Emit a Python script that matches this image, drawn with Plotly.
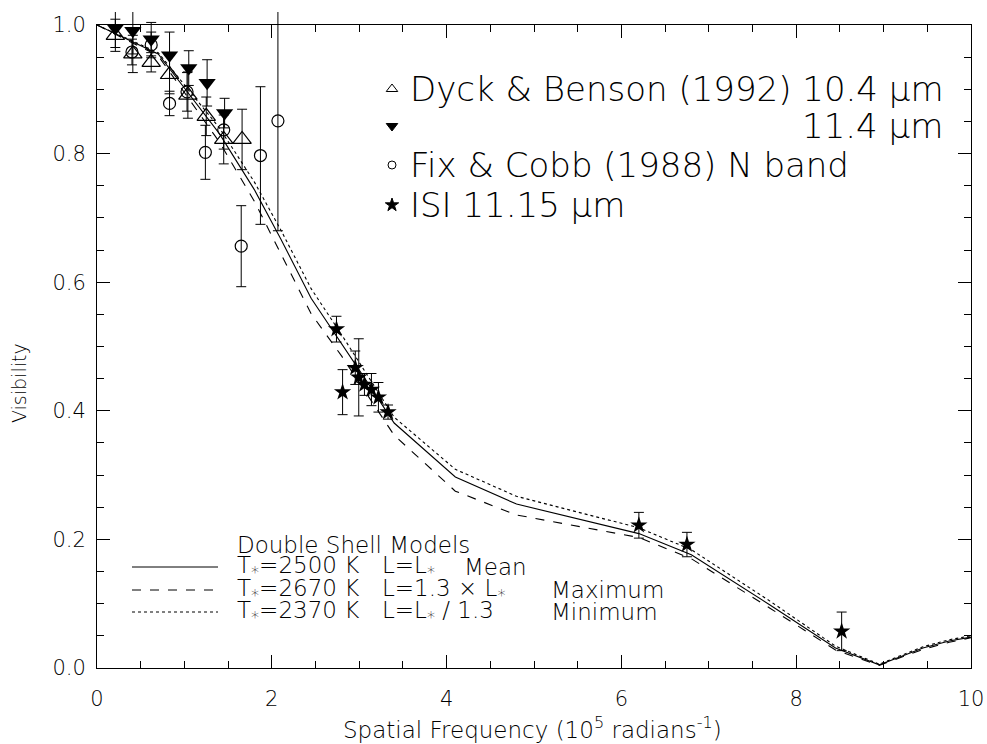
import plotly.graph_objects as go

# ---------------- data ----------------
model_freq = [0, 0.4, 0.7, 1.0, 1.4, 1.8, 2.1, 2.45, 2.8, 3.1, 3.4, 4.1, 4.8,
              6.2, 6.8, 7.7, 8.45, 8.95, 9.2, 9.45, 9.75, 10]
model_mean = [1.0, 0.974, 0.955, 0.902, 0.831, 0.744, 0.668, 0.575, 0.505, 0.443,
              0.381, 0.297, 0.255, 0.209, 0.176, 0.098, 0.031, 0.005, 0.018, 0.031,
              0.042, 0.048]
model_max = [1.0, 0.973, 0.952, 0.895, 0.818, 0.726, 0.646, 0.551, 0.485, 0.424,
             0.362, 0.275, 0.238, 0.203, 0.170, 0.093, 0.028, 0.004, 0.016, 0.029,
             0.040, 0.047]
model_min = [1.0, 0.975, 0.957, 0.907, 0.840, 0.756, 0.682, 0.590, 0.518, 0.454,
             0.390, 0.309, 0.267, 0.218, 0.184, 0.104, 0.034, 0.006, 0.020, 0.033,
             0.044, 0.050]

db104_x = [0.21, 0.41, 0.62, 0.83, 1.04, 1.25, 1.45, 1.66]
db104_y = [0.984, 0.955, 0.942, 0.923, 0.891, 0.858, 0.822, 0.822]
db104_e = [0.025, 0.029, 0.015, 0.030, 0.036, 0.030, 0.038, 0.047]

db114_x = [0.21, 0.41, 0.62, 0.83, 1.05, 1.26, 1.46]
db114_y = [0.995, 0.991, 0.978, 0.953, 0.933, 0.910, 0.863]
db114_e = [0.030, 0.036, 0.026, 0.036, 0.027, 0.036, 0.023]

fc_x = [0.40, 0.62, 0.83, 1.03, 1.24, 1.45, 1.65, 1.87, 2.07]
fc_y = [0.958, 0.969, 0.878, 0.896, 0.802, 0.837, 0.656, 0.797, 0.851]
fc_e = [0.020, 0.020, 0.019, 0.030, 0.042, 0.030, 0.063, 0.107, 0.171]

isi_x = [2.74, 2.81, 2.955, 2.995, 3.06, 3.14, 3.22, 3.33, 6.20, 6.75, 8.52]
isi_y = [0.527, 0.429, 0.467, 0.452, 0.441, 0.433, 0.421, 0.398, 0.222, 0.192, 0.057]
isi_e = [0.020, 0.035, 0.026, 0.060, 0.017, 0.025, 0.023, 0.011, 0.020, 0.019, 0.030]

x_ticks = [0, 2, 4, 6, 8, 10]
y_ticks = [0.0, 0.2, 0.4, 0.6, 0.8, 1.0]

FONT = "DejaVu Sans"
BLACK = "#000000"

# ---------------- geometry (page pixels) ----------------
L, R, T, B = 97, 971, 25, 668  # visible frame
TOP_DATA = 12                  # data layer extends above the frame (unclipped error bars)
W, H = 987, 744

frame_frac = (B - T) / (B - TOP_DATA)
y_data_top = 1.0 / frame_frac


def px(xp):
    return (xp - L) / (R - L)


def py(yp):
    return (B - yp) / (B - TOP_DATA)


fig = go.Figure()

# model curves (main frame axes)
for yy, dash in [(model_mean, "solid"), (model_max, "dash"), (model_min, "dot")]:
    fig.add_trace(go.Scatter(x=model_freq, y=yy, mode="lines", xaxis="x", yaxis="y",
                             line=dict(color=BLACK, width=1.1, dash=dash),
                             showlegend=False, hoverinfo="skip"))

err_style = dict(type="data", color=BLACK, thickness=1, width=5)

fig.add_trace(go.Scatter(x=db104_x, y=db104_y, mode="markers", xaxis="x3", yaxis="y3",
                         error_y=dict(array=db104_e, **err_style),
                         marker=dict(symbol="triangle-up-open", size=16,
                                     color=BLACK, line=dict(width=1.2)),
                         cliponaxis=False, showlegend=False))
fig.add_trace(go.Scatter(x=db114_x, y=db114_y, mode="markers", xaxis="x3", yaxis="y3",
                         error_y=dict(array=db114_e, **err_style),
                         marker=dict(symbol="triangle-down", size=15, color=BLACK),
                         cliponaxis=False, showlegend=False))
fig.add_trace(go.Scatter(x=fc_x, y=fc_y, mode="markers", xaxis="x3", yaxis="y3",
                         error_y=dict(array=fc_e, **err_style),
                         marker=dict(symbol="circle-open", size=12,
                                     color=BLACK, line=dict(width=1.2)),
                         cliponaxis=False, showlegend=False))
fig.add_trace(go.Scatter(x=isi_x, y=isi_y, mode="markers", xaxis="x3", yaxis="y3",
                         error_y=dict(array=isi_e, **err_style),
                         marker=dict(symbol="star", size=13, color=BLACK),
                         cliponaxis=False, showlegend=False))

# legend symbols (paper-like helper axes)
leg_sym_x = [px(392)] * 4
leg_sym_y = [py(89), py(126), py(165), py(205)]
leg_syms = ["triangle-up-open", "triangle-down", "circle-open", "star"]
leg_sizes = [10, 10, 8, 10]
for sx, sy, s, sz in zip(leg_sym_x, leg_sym_y, leg_syms, leg_sizes):
    fig.add_trace(go.Scatter(x=[sx], y=[sy], xaxis="x2", yaxis="y2", mode="markers",
                             marker=dict(symbol=s, size=sz, color=BLACK,
                                         line=dict(width=1, color=BLACK)),
                             showlegend=False, hoverinfo="skip", cliponaxis=False))

ann = []
big = dict(family=FONT, size=34, color=BLACK, weight=200)
ann.append(dict(x=px(408), y=py(89), text="Dyck &amp; Benson (1992) 10.4 μm",
                xanchor="left", font=big))
ann.append(dict(x=px(945), y=py(126), text="11.4 μm", xanchor="right", font=big))
ann.append(dict(x=px(408), y=py(165), text="Fix &amp; Cobb (1988) N band",
                xanchor="left", font=big))
ann.append(dict(x=px(408), y=py(205), text="ISI 11.15 μm", xanchor="left", font=big))

small = dict(family=FONT, size=23, color=BLACK, weight=200)
ann.append(dict(x=px(235), y=py(545), text="Double Shell Models", xanchor="left", font=small))
rows_y = [567, 590, 612]
col1 = ["T<sub>*</sub>=2500 K", "T<sub>*</sub>=2670 K", "T<sub>*</sub>=2370 K"]
col2 = ["L=L<sub>*</sub>", "L=1.3 × L<sub>*</sub>", "L=L<sub>*</sub> / 1.3"]
col3 = ["Mean", "Maximum", "Minimum"]
col3_x = [462, 549, 549]
for ry, c1, c2, c3, cx in zip(rows_y, col1, col2, col3, col3_x):
    ann.append(dict(x=px(235), y=py(ry), text=c1, xanchor="left", font=small))
    ann.append(dict(x=px(380), y=py(ry), text=c2, xanchor="left", font=small))
    ann.append(dict(x=px(cx), y=py(ry), text=c3, xanchor="left", font=small))

ann.append(dict(x=px(532), y=py(728),
                text="Spatial Frequency (10<sup>5</sup> radians<sup>-1</sup>)",
                xanchor="center", font=dict(family=FONT, size=23, color=BLACK, weight=200)))
ann.append(dict(x=px(19), y=py(383), text="Visibility", textangle=-90,
                xanchor="center", font=dict(family=FONT, size=19, color=BLACK, weight=200)))

for a in ann:
    a.update(xref="paper", yref="paper", showarrow=False, yanchor="middle")

shapes = []
for ry, dash in zip(rows_y, ["solid", "dash", "dot"]):
    shapes.append(dict(type="line", xref="paper", yref="paper",
                       x0=px(132), x1=px(218), y0=py(ry), y1=py(ry),
                       line=dict(color=BLACK, width=1, dash=dash)))

axis_common = dict(showline=True, linecolor=BLACK, linewidth=1, mirror="ticks",
                   ticks="inside", ticklen=13, tickcolor=BLACK, tickwidth=1,
                   showgrid=False, zeroline=False, automargin=False,
                   tickfont=dict(family=FONT, size=21, color=BLACK, weight=200))

hidden = dict(visible=False, showgrid=False, zeroline=False, automargin=False)

fig.update_layout(
    width=W, height=H,
    margin=dict(l=L, r=W - R, t=TOP_DATA, b=H - B, autoexpand=False),
    paper_bgcolor="white", plot_bgcolor="rgba(0,0,0,0)",
    xaxis=dict(range=[0, 10], tickvals=x_ticks, ticktext=[str(v) for v in x_ticks],
               minor=dict(dtick=0.5, ticks="inside", ticklen=7, tickcolor=BLACK),
               ticklabelstandoff=12, anchor="y", domain=[0, 1], **axis_common),
    yaxis=dict(range=[0, 1.0], tickvals=y_ticks, ticktext=[f"{v:.1f}" for v in y_ticks],
               minor=dict(dtick=0.05, ticks="inside", ticklen=7, tickcolor=BLACK),
               ticklabelstandoff=6, anchor="x", domain=[0, frame_frac], **axis_common),
    xaxis2=dict(range=[0, 1], domain=[0, 1], anchor="y2", **hidden),
    yaxis2=dict(range=[0, 1], domain=[0, 1], anchor="x2", **hidden),
    xaxis3=dict(range=[0, 10], domain=[0, 1], anchor="y3", **hidden),
    yaxis3=dict(range=[0, y_data_top], domain=[0, 1], anchor="x3", **hidden),
    annotations=ann,
    shapes=shapes,
    showlegend=False,
)

# remove the default page margin so the figure fills the 987x744 window exactly
fig.write_html("out.html",
               config={"displayModeBar": False},
               post_script="document.body.style.margin='0px';document.body.style.overflow='hidden';")
